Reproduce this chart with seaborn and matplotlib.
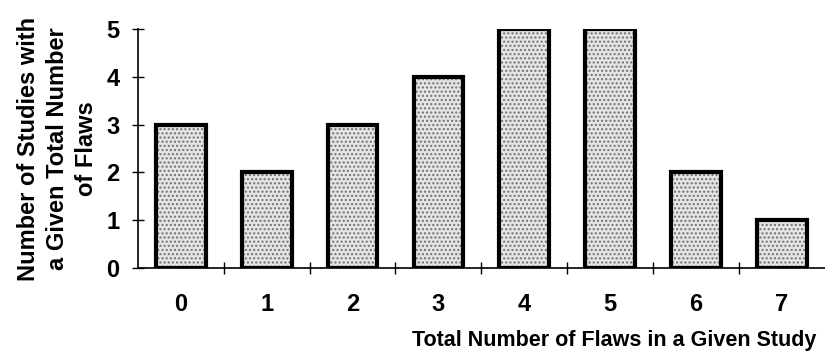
import matplotlib
matplotlib.use("Agg")
import matplotlib.pyplot as plt
import seaborn as sns
import pandas as pd

# Chart data
flaws = ["0", "1", "2", "3", "4", "5", "6", "7"]
studies = [3, 2, 3, 4, 5, 5, 2, 1]
y_ticks = [0, 1, 2, 3, 4, 5]

data = pd.DataFrame({"Flaws": flaws, "Studies": studies})

sns.set_style("white")
plt.rcParams["font.family"] = ["Liberation Sans", "DejaVu Sans"]
plt.rcParams["font.weight"] = "bold"
plt.rcParams["text.color"] = "black"
plt.rcParams["axes.labelcolor"] = "black"
plt.rcParams["xtick.color"] = "black"
plt.rcParams["ytick.color"] = "black"
plt.rcParams["hatch.linewidth"] = 1.0

fig = plt.figure(figsize=(8.25, 3.54), dpi=100)
ax = fig.add_axes([0.167, 0.243, 0.833, 0.675])

# dotted fill layer
sns.barplot(data=data, x="Flaws", y="Studies", color="#e4e4e4", width=0.58,
            edgecolor="#707070", linewidth=0, hatch="....", ax=ax)
# black outline layer
sns.barplot(data=data, x="Flaws", y="Studies", fill=False, width=0.58,
            edgecolor="black", linewidth=3, ax=ax)

ax.set_xlim(-0.5, 7.5)
ax.set_ylim(0, 5)
ax.set_yticks(y_ticks)
ax.set_yticklabels([str(v) for v in y_ticks], fontsize=17, fontweight="bold")
ax.set_xticklabels(flaws, fontsize=17, fontweight="bold")

# ticks between categories on the x axis, crossing the line
ax.set_xticks([i + 0.5 for i in range(len(flaws) - 1)], minor=True)
ax.tick_params(axis="x", which="major", bottom=True, length=0, pad=18)
ax.tick_params(axis="x", which="minor", bottom=True, direction="inout",
               length=8, width=1, color="black")
ax.tick_params(axis="y", which="major", left=True, direction="inout",
               length=8, width=1, pad=9, color="black")

for s in ["top", "right"]:
    ax.spines[s].set_visible(False)
for s in ["left", "bottom"]:
    ax.spines[s].set_color("black")
    ax.spines[s].set_linewidth(1.2)

ax.set_xlabel("Total Number of Flaws in a Given Study", fontsize=15.5,
              fontweight="bold", labelpad=10, x=0.693)
ax.set_ylabel("Number of Studies with\na Given Total Number\nof Flaws", fontsize=17,
              fontweight="bold", labelpad=6, linespacing=1.35)

plt.savefig("out.png", dpi=100)
